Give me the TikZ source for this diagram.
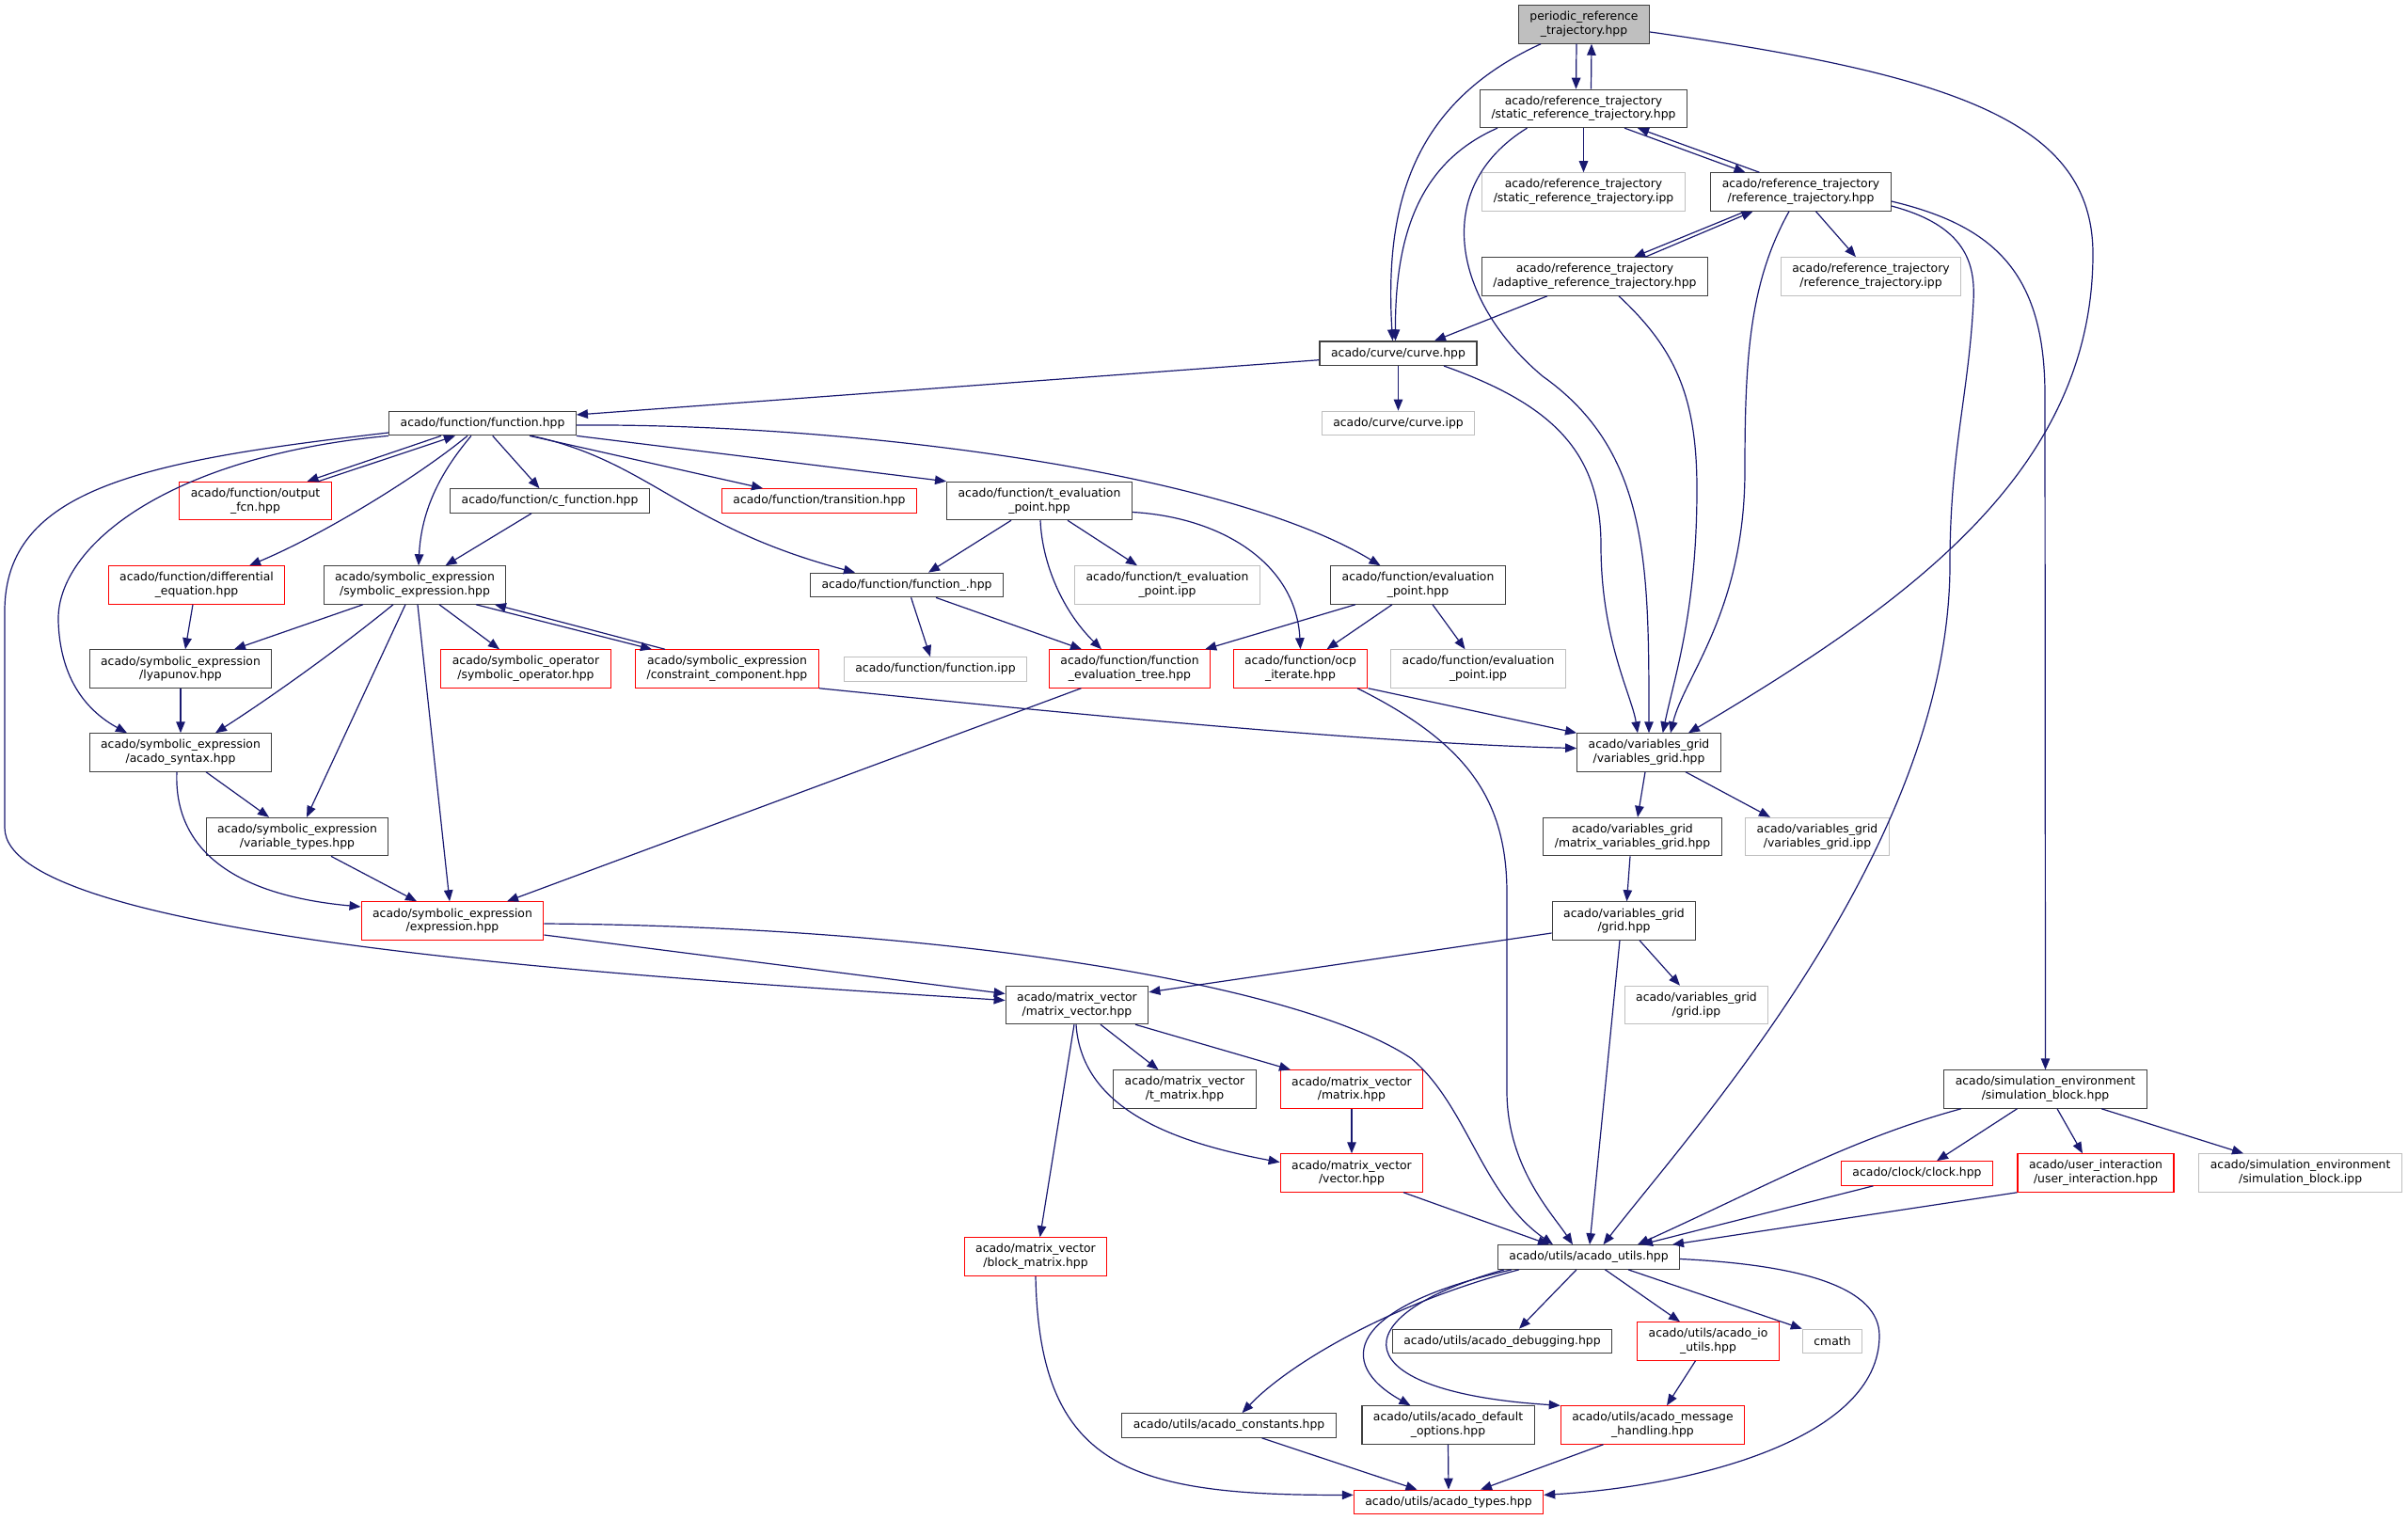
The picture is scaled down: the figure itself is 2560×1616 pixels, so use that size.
\documentclass[tikz,border=0pt]{standalone}
\usepackage{fontspec}
\setmainfont{DejaVu Sans}
\usepackage{xcolor}
\usetikzlibrary{arrows.meta, positioning}

\definecolor{edgeblue}{HTML}{191970}
\definecolor{grey25}{HTML}{404040}
\definecolor{grey75}{HTML}{BFBFBF}

\begin{document}
\begin{tikzpicture}[
    x=1pt, y=-1pt,
    font=\fontsize{12.4}{14.6}\selectfont,
    >={Triangle[length=12pt, width=9.5pt]},
    file/.style={
      draw=grey25,
      line width=1.2pt,
      fill=white,
      align=center,
      inner xsep=12pt,
      inner ysep=2pt,
      minimum height=25.5pt
    },
    twoline/.style={minimum height=40.3pt},
    root/.style={file, fill=grey75},
    trunc/.style={file, draw=red},  % red frame for truncated includes
    extern/.style={file, draw=grey75},
    incl/.style={->, edgeblue, line width=1.2pt}
]
\useasboundingbox (0,0) rectangle (2560,1616);

% reference trajectory part
\node[root, twoline] (P) at (1684,26) {periodic\_reference\\\_trajectory.hpp};
\node[file, twoline] (S) at (1683.5,115.4) {acado/reference\_trajectory\\/static\_reference\_trajectory.hpp};
\node[extern, twoline] (sipp) at (1683.5,204) {acado/reference\_trajectory\\/static\_reference\_trajectory.ipp};
\node[file, twoline] (R) at (1914.5,204) {acado/reference\_trajectory\\/reference\_trajectory.hpp};
\node[file, twoline] (A) at (1695.5,294) {acado/reference\_trajectory\\/adaptive\_reference\_trajectory.hpp};
\node[extern, twoline] (ripp) at (1989,294) {acado/reference\_trajectory\\/reference\_trajectory.ipp};
\node[file] (curve) at (1486.5,375.7) {acado/curve/curve.hpp};
\node[extern] (cipp) at (1486.5,450) {acado/curve/curve.ipp};

% function part
\node[file] (function) at (513,450) {acado/function/function.hpp};
\node[trunc, twoline] (output) at (271.5,532.5) {acado/function/output\\\_fcn.hpp};
\node[file] (cfunc) at (584.5,532.5) {acado/function/c\_function.hpp};
\node[trunc] (transition) at (871,532.5) {acado/function/transition.hpp};
\node[file, twoline] (tevalpt) at (1105,532.5) {acado/function/t\_evaluation\\\_point.hpp};
\node[file, twoline] (evalpt) at (1507.5,622) {acado/function/evaluation\\\_point.hpp};
\node[trunc, twoline] (diffeq) at (209,622) {acado/function/differential\\\_equation.hpp};
\node[file, twoline] (symexpr) at (441,622) {acado/symbolic\_expression\\/symbolic\_expression.hpp};
\node[file] (functionu) at (964,622) {acado/function/function\_.hpp};
\node[extern, twoline] (tevalipp) at (1241,622) {acado/function/t\_evaluation\\\_point.ipp};
\node[file, twoline] (lyapunov) at (192,711) {acado/symbolic\_expression\\/lyapunov.hpp};
\node[trunc, twoline] (symop) at (559,711) {acado/symbolic\_operator\\/symbolic\_operator.hpp};
\node[trunc, twoline] (constraint) at (773,711) {acado/symbolic\_expression\\/constraint\_component.hpp};
\node[extern] (funcipp) at (994.5,711.5) {acado/function/function.ipp};
\node[trunc, twoline] (evaltree) at (1201,711) {acado/function/function\\\_evaluation\_tree.hpp};
\node[trunc, twoline] (ocp) at (1382.5,711) {acado/function/ocp\\\_iterate.hpp};
\node[extern, twoline] (evalipp) at (1571.5,711) {acado/function/evaluation\\\_point.ipp};
\node[file, twoline] (syntax) at (192,800) {acado/symbolic\_expression\\/acado\_syntax.hpp};
\node[file, twoline] (vartypes) at (316,889.6) {acado/symbolic\_expression\\/variable\_types.hpp};
\node[trunc, twoline] (expression) at (481,979) {acado/symbolic\_expression\\/expression.hpp};

% variables grid and matrix vector part
\node[file, twoline] (vgrid) at (1753,800) {acado/variables\_grid\\/variables\_grid.hpp};
\node[file, twoline] (mvgrid) at (1735.5,889.6) {acado/variables\_grid\\/matrix\_variables\_grid.hpp};
\node[extern, twoline] (vgridipp) at (1932,889.6) {acado/variables\_grid\\/variables\_grid.ipp};
\node[file, twoline] (grid) at (1726.5,979) {acado/variables\_grid\\/grid.hpp};
\node[extern, twoline] (gridipp) at (1803.5,1068.5) {acado/variables\_grid\\/grid.ipp};
\node[file, twoline] (mvector) at (1145,1068.5) {acado/matrix\_vector\\/matrix\_vector.hpp};
\node[file, twoline] (tmatrix) at (1259.5,1158) {acado/matrix\_vector\\/t\_matrix.hpp};
\node[trunc, twoline] (matrix) at (1437,1158) {acado/matrix\_vector\\/matrix.hpp};
\node[trunc, twoline] (vector) at (1437,1247) {acado/matrix\_vector\\/vector.hpp};
\node[trunc, twoline] (block) at (1101,1336) {acado/matrix\_vector\\/block\_matrix.hpp};

% simulation and utils part
\node[file, twoline] (simblock) at (2174.5,1158) {acado/simulation\_environment\\/simulation\_block.hpp};
\node[trunc] (clock) at (2038,1247.5) {acado/clock/clock.hpp};
\node[trunc, twoline] (userint) at (2228,1247) {acado/user\_interaction\\/user\_interaction.hpp};
\node[extern, twoline] (simipp) at (2445.6,1247) {acado/simulation\_environment\\/simulation\_block.ipp};
\node[file] (utils) at (1689,1336.5) {acado/utils/acado\_utils.hpp};
\node[file] (debugging) at (1597,1426) {acado/utils/acado\_debugging.hpp};
\node[trunc, twoline] (ioutils) at (1816,1426) {acado/utils/acado\_io\\\_utils.hpp};
\node[extern] (cmath) at (1948,1426) {cmath};
\node[file] (constants) at (1306.5,1515.5) {acado/utils/acado\_constants.hpp};
\node[file, twoline] (defaults) at (1539.5,1515) {acado/utils/acado\_default\\\_options.hpp};
\node[trunc, twoline] (message) at (1757,1515) {acado/utils/acado\_message\\\_handling.hpp};
\node[trunc] (types) at (1540,1597) {acado/utils/acado\_types.hpp};

% includes of the reference trajectory headers
\draw[incl] ([xshift=-8pt]P.south) -- ([xshift=-8pt]S.north);
\draw[incl] ([xshift=8pt]S.north) -- ([xshift=8pt]P.south);
\draw[incl] ([xshift=-46pt]P.south) .. controls (1500,110) and (1472,220) .. ([xshift=-6pt]curve.north);
\draw[incl] ([yshift=-8pt]P.east) .. controls (2080,80) and (2225,130) .. (2225,270)
  .. controls (2225,500) and (2030,640) .. ([xshift=42pt]vgrid.north);
\draw[incl] ([xshift=-91.5pt]S.south) .. controls (1515,170) and (1483,240) .. ([xshift=-3pt]curve.north);
\draw[incl] (S.south) -- (sipp.north);
\draw[incl] ([xshift=43.5pt]S.south) -- ([xshift=-59pt]R.north);
\draw[incl] ([xshift=-44pt]R.north) -- ([xshift=57.5pt]S.south);
\draw[incl] ([xshift=-60pt]S.south) .. controls (1520,200) and (1545,320) .. (1640,400)
  .. controls (1753,480) and (1753,600) .. (vgrid.north);
\draw[incl] ([xshift=-59pt]R.south) -- ([xshift=41.5pt]A.north);
\draw[incl] ([xshift=53.5pt]A.north) -- ([xshift=-51pt]R.south);
\draw[incl] ([xshift=16pt]R.south) -- ([xshift=-16pt]ripp.north);
\draw[incl] ([xshift=-12.5pt]R.south) .. controls (1860,300) and (1855,380) .. (1855,500)
  .. controls (1855,650) and (1790,720) .. ([xshift=23pt]vgrid.north);
\draw[incl] ([yshift=-10pt]R.east) .. controls (2120,240) and (2174,290) .. (2174,420) -- (simblock.north);
\draw[incl] ([yshift=-15pt]R.east) .. controls (2090,240) and (2100,280) .. (2098,320)
  .. controls (2093,420) and (2073,480) .. (2073,600)
  .. controls (2073,900) and (1800,1200) .. ([xshift=15.5pt]utils.north);
\draw[incl] ([xshift=-50.5pt]A.south) -- ([xshift=38.5pt]curve.north);
\draw[incl] ([xshift=25.5pt]A.south) .. controls (1780,370) and (1804,420) .. (1804,520)
  .. controls (1804,650) and (1780,720) .. ([xshift=14.7pt]vgrid.north);
\draw[incl] ([yshift=-7pt]curve.west) -- ([yshift=9pt]function.east);
\draw[incl] (curve.south) -- (cipp.north);
\draw[incl] ([xshift=48.5pt]curve.south) .. controls (1650,430) and (1702,480) .. (1702,580)
  .. controls (1702,680) and (1735,740) .. ([xshift=-12pt]vgrid.north);

% includes of the function headers
\draw[incl] ([xshift=-44pt]function.south) -- ([xshift=55pt]output.north);
\draw[incl] ([xshift=67pt]output.north) -- ([xshift=-29pt]function.south);
\draw[incl] ([xshift=10.7pt]function.south) -- ([xshift=-11pt]cfunc.north);
\draw[incl] ([xshift=50pt]function.south) -- ([xshift=-60pt]transition.north);
\draw[incl] (function.south east) -- (tevalpt.north west);
\draw[incl] ([yshift=-2pt]function.east) .. controls (900,450) and (1300,500) .. ([xshift=-40pt]evalpt.north);
\draw[incl] ([xshift=52pt]function.south) .. controls (690,490) and (725,560) .. ([xshift=-55pt]functionu.north);
\draw[incl] ([xshift=-12pt]function.south) .. controls (470,500) and (448,540) .. ([xshift=4pt]symexpr.north);
\draw[incl] ([xshift=-16pt]function.south) .. controls (440,510) and (340,570) .. ([xshift=56pt]diffeq.north);
\draw[incl] (function.south west) .. controls (180,485) and (60,580) .. (62,660)
  .. controls (64,730) and (100,760) .. ([xshift=-57pt]syntax.north);
\draw[incl] ([yshift=-10pt]function.west) .. controls (150,490) and (5,520) .. (5,650) -- (5,880)
  .. controls (5,1000) and (700,1040) .. ([yshift=5pt]mvector.west);
\draw[incl] ([xshift=-19.5pt]cfunc.south) -- ([xshift=32.5pt]symexpr.north);
\draw[incl] ([xshift=-4pt]diffeq.south) -- ([xshift=5pt]lyapunov.north);
\draw[incl] ([xshift=-55pt]symexpr.south) -- ([xshift=57pt]lyapunov.north);
\draw[incl] ([xshift=-23pt]symexpr.south) .. controls (360,690) and (290,740) .. ([xshift=37pt]syntax.north);
\draw[incl] ([xshift=-10pt]symexpr.south) -- ([xshift=10pt]vartypes.north);
\draw[incl] ([xshift=3pt]symexpr.south) -- ([xshift=-3pt]expression.north);
\draw[incl] ([xshift=26pt]symexpr.south) -- ([xshift=-28pt]symop.north);
\draw[incl] ([xshift=65pt]symexpr.south) -- ([xshift=-80pt]constraint.north);
\draw[incl] ([xshift=-66pt]constraint.north) -- ([xshift=85pt]symexpr.south);
\draw[incl] (lyapunov.south) -- (syntax.north);
\draw[incl] ([xshift=27pt]syntax.south) -- ([xshift=-30pt]vartypes.north);
\draw[incl] ([xshift=-4pt]syntax.south) .. controls (185,890) and (230,950) .. ([yshift=15pt]expression.west);
\draw[incl] ([xshift=36pt]vartypes.south) -- ([xshift=-38pt]expression.north);
\draw[incl] (constraint.south east) .. controls (1100,755) and (1450,790) .. ([yshift=4.5pt]vgrid.west);
\draw[incl] ([xshift=-30pt]tevalpt.south) -- ([xshift=23pt]functionu.north);
\draw[incl] ([xshift=1pt]tevalpt.south) .. controls (1108,600) and (1130,650) .. ([xshift=-30pt]evaltree.north);
\draw[incl] ([xshift=30pt]tevalpt.south) -- ([xshift=-32pt]tevalipp.north);
\draw[incl] ([yshift=-12pt]tevalpt.east) .. controls (1300,550) and (1378,600) .. (ocp.north);
\draw[incl] ([xshift=4.6pt]functionu.south) -- ([xshift=-5.5pt]funcipp.north);
\draw[incl] ([xshift=31pt]functionu.south) -- ([xshift=-51pt]evaltree.north);
\draw[incl] ([xshift=-66.5pt]evalpt.south) -- ([xshift=-6pt]evaltree.north east);
\draw[incl] ([xshift=-27.5pt]evalpt.south) -- ([xshift=28pt]ocp.north);
\draw[incl] ([xshift=15.5pt]evalpt.south) -- ([xshift=-14pt]evalipp.north);
\draw[incl] ([xshift=-51.6pt]evaltree.south) -- ([xshift=58pt]expression.north);
\draw[incl] (ocp.south east) -- (vgrid.north west);
\draw[incl] ([xshift=60.5pt]ocp.south) .. controls (1560,790) and (1602,850) .. (1602,950) -- (1602,1160)
  .. controls (1602,1240) and (1650,1290) .. ([xshift=-17pt]utils.north);

% includes of the grid and matrix headers
\draw[incl] ([xshift=-4pt]vgrid.south) -- ([xshift=5.5pt]mvgrid.north);
\draw[incl] ([xshift=39pt]vgrid.south) -- ([xshift=-50pt]vgridipp.north);
\draw[incl] ([xshift=-2.5pt]mvgrid.south) -- ([xshift=3pt]grid.north);
\draw[incl] ([yshift=-13pt]grid.west) -- ([yshift=13.7pt]mvector.east);
\draw[incl] ([xshift=16.5pt]grid.south) -- ([xshift=-17.5pt]gridipp.north);
\draw[incl] ([xshift=-4.5pt]grid.south) -- ([xshift=1pt]utils.north);
\draw[incl] ([yshift=-15pt]expression.east) -- ([yshift=12pt]mvector.west);
\draw[incl] ([yshift=-3pt]expression.east) .. controls (1000,985) and (1380,1045) .. (1500,1125)
  .. controls (1560,1175) and (1575,1270) .. ([xshift=-38pt]utils.north);
\draw[incl] ([xshift=25pt]mvector.south) -- ([xshift=-28pt]tmatrix.north);
\draw[incl] ([xshift=62pt]mvector.south) -- ([xshift=-65pt]matrix.north);
\draw[incl] ([xshift=-1pt]mvector.south) .. controls (1150,1180) and (1250,1215) .. ([yshift=11.4pt]vector.west);
\draw[incl] ([xshift=-3pt]mvector.south) -- ([xshift=4.6pt]block.north);
\draw[incl] (matrix.south) -- (vector.north);
\draw[incl] ([xshift=55pt]vector.south) -- ([xshift=-42pt]utils.north);
\draw[incl] (block.south) .. controls (1105,1560) and (1200,1590) .. ([yshift=7.6pt]types.west);

% includes of the simulation and utils headers
\draw[incl] ([xshift=-89.5pt]simblock.south) .. controls (1970,1210) and (1880,1260) .. ([xshift=52pt]utils.north);
\draw[incl] ([xshift=-30pt]simblock.south) -- ([xshift=21pt]clock.north);
\draw[incl] ([xshift=12.5pt]simblock.south) -- ([xshift=-14pt]userint.north);
\draw[incl] ([xshift=59.5pt]simblock.south) -- ([xshift=-60.6pt]simipp.north);
\draw[incl] ([xshift=-46.6pt]clock.south) -- ([xshift=56pt]utils.north);
\draw[incl] (userint.south west) -- ([xshift=89pt]utils.north);
\draw[incl] ([xshift=-13pt]utils.south) -- ([xshift=18pt]debugging.north);
\draw[incl] ([xshift=17.5pt]utils.south) -- ([xshift=-30pt]ioutils.north);
\draw[incl] ([xshift=42pt]utils.south) -- (cmath.north west);
\draw[incl] ([xshift=-74pt]utils.south) .. controls (1480,1385) and (1370,1450) .. ([xshift=14pt]constants.north);
\draw[incl] ([xshift=-82pt]utils.south) .. controls (1430,1390) and (1420,1450) .. ([xshift=-40pt]defaults.north);
\draw[incl] ([xshift=-90pt]utils.south) .. controls (1420,1400) and (1430,1480) .. (message.north west);
\draw[incl] ([yshift=-2pt]utils.east) .. controls (1920,1345) and (1998,1370) .. (1998,1420)
  .. controls (1998,1530) and (1800,1580) .. ([yshift=7.6pt]types.east);
\draw[incl] ([xshift=-13.5pt]ioutils.south) -- ([xshift=15pt]message.north);
\draw[incl] ([xshift=35pt]constants.south) -- ([xshift=-33.5pt]types.north);
\draw[incl] (defaults.south) -- (types.north);
\draw[incl] ([xshift=-52.5pt]message.south) -- ([xshift=34pt]types.north);
\end{tikzpicture}
\end{document}
